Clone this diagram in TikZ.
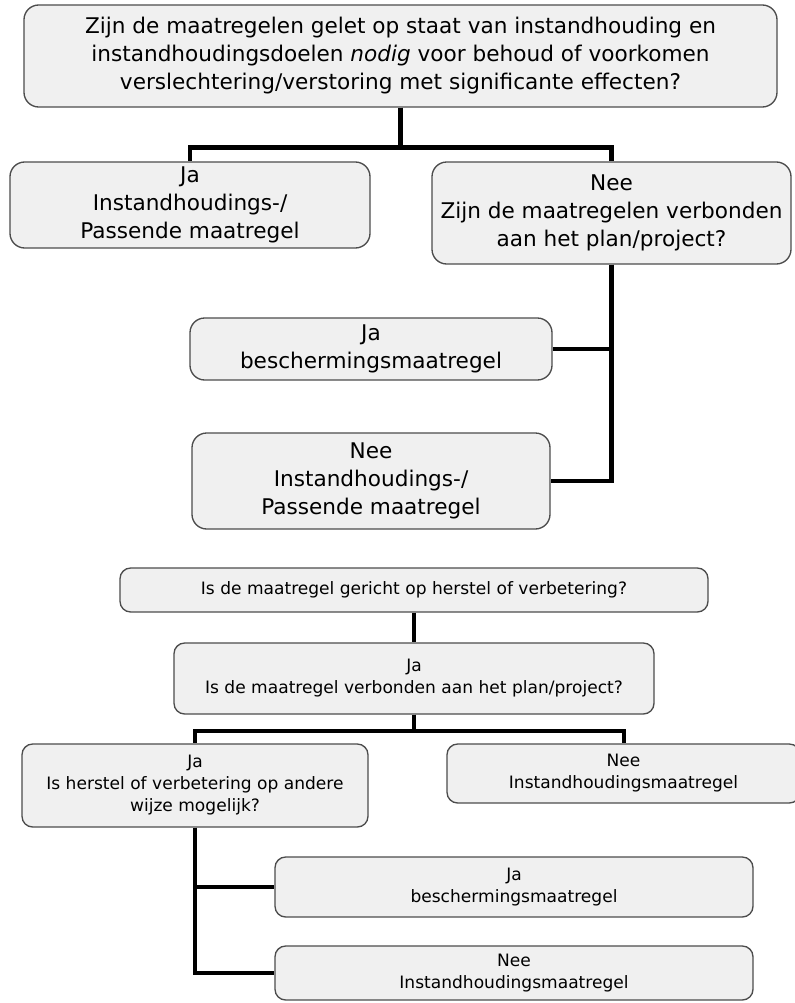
\documentclass[tikz,border=0pt]{standalone}
\usepackage{fontspec}
\setmainfont{DejaVu Sans}
\usepackage{tikz}

\begin{document}
\begin{tikzpicture}[x=0.75pt,y=-0.75pt,
  box/.style={draw=black!70,fill=black!6,line width=1pt,align=center,inner sep=0pt},
  big/.style={box,rounded corners=11pt,font=\fontsize{16.2}{21}\selectfont},
  small/.style={box,rounded corners=8pt,font=\fontsize{12.8}{16.5}\selectfont},
  link/.style={line width=3.6pt},
  thin link/.style={line width=3pt}]
\useasboundingbox (0,0) rectangle (795,1003);

\node (q1) at (400.5,56) [big,minimum width=564.75pt,minimum height=76.5pt]
  {Zijn de maatregelen gelet op staat van instandhouding en\\
   instandhoudingsdoelen \textit{nodig} voor behoud of voorkomen\\
   verslechtering/verstoring met significante effecten?};
\node (ja1) at (190,205) [big,minimum width=270pt,minimum height=64.5pt]
  {Ja\\Instandhoudings-/\\Passende maatregel};
\node (nee1) at (611.5,213) [big,minimum width=269.25pt,minimum height=76.5pt]
  {Nee\\Zijn de maatregelen verbonden\\aan het plan/project?};
\node (ja2) at (371,349) [big,minimum width=271.5pt,minimum height=46.5pt]
  {Ja\\beschermingsmaatregel};
\node (nee2) at (371,481) [big,minimum width=268.5pt,minimum height=72pt]
  {Nee\\Instandhoudings-/\\Passende maatregel};

\node (q2) at (414,590) [small,minimum width=441pt,minimum height=33pt]
  {Is de maatregel gericht op herstel of verbetering?};
\node (ja4) at (414,678.5) [small,minimum width=360pt,minimum height=53.25pt]
  {Ja\\Is de maatregel verbonden aan het plan/project?};
\node (nee4) at (623.5,773.5) [small,minimum width=264.75pt,minimum height=44.25pt]
  {Nee\\Instandhoudingsmaatregel};
\node (ja5) at (195,785.5) [small,minimum width=259.5pt,minimum height=62.25pt]
  {Ja\\Is herstel of verbetering op andere\\wijze mogelijk?};
\node (ja6) at (514,887) [small,minimum width=358.5pt,minimum height=45pt]
  {Ja\\beschermingsmaatregel};
\node (nee6) at (514,973) [small,minimum width=358.5pt,minimum height=40.5pt]
  {Nee\\Instandhoudingsmaatregel};

\draw[link] (q1.south) -- ++(0,40) -| (ja1.north);
\draw[link] (q1.south) -- ++(0,40) -| (nee1.north);
\draw[link] (nee1.south) |- (ja2.east);
\draw[link] (nee1.south) |- (nee2.east);

\draw[thin link] (q2.south) -- (ja4.north);
\draw[thin link] (ja4.south) -- ++(0,16) -| (ja5.north);
\draw[thin link] (ja4.south) -- ++(0,16) -| (nee4.north);
\draw[thin link] (ja5.south) |- (ja6.west);
\draw[thin link] (ja5.south) |- (nee6.west);
\end{tikzpicture}
\end{document}
